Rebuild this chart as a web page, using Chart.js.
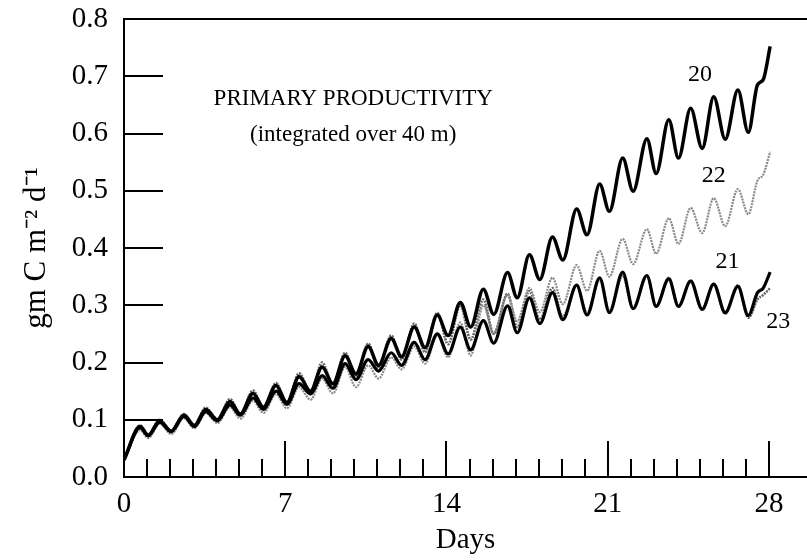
<!DOCTYPE html>
<html>
<head>
<meta charset="utf-8">
<script src="https://cdn.jsdelivr.net/npm/chart.js@4.4.1/dist/chart.umd.min.js"></script>
<style>
html,body{margin:0;padding:0;background:#fff;overflow:hidden}
#wrap{width:807px;height:560px;position:relative}
</style>
</head>
<body>
<div id="wrap"><canvas id="c" width="807" height="560"></canvas></div>
<script>
// ---- data ----
// times (days) of successive diel troughs / peaks, then end shoulder points
const times = [0, 0.7, 1.05, 1.55, 2.05, 2.6, 3.05, 3.55, 4.05, 4.6, 5.05, 5.6, 6.05, 6.6, 7.07,
  7.6, 8.1, 8.6, 9.07, 9.6, 10.07, 10.6, 11.05, 11.6, 12.05, 12.6, 13.07, 13.6, 14.07,
  14.6, 15.05, 15.6, 16.05, 16.65, 17.07, 17.6, 18.05, 18.6, 19.05, 19.65, 20.1, 20.65, 21.07,
  21.65, 22.1, 22.7, 23.1, 23.65, 24.07, 24.6, 25.1, 25.6, 26.1, 26.65, 27.1, 27.5, 27.75, 28.05];

const run20 = [0.03, 0.088, 0.073, 0.098, 0.08, 0.108, 0.09, 0.118, 0.10, 0.132, 0.11, 0.146, 0.122, 0.16, 0.13,
  0.175, 0.15, 0.192, 0.163, 0.212, 0.18, 0.228, 0.195, 0.242, 0.21, 0.262, 0.226, 0.283, 0.247,
  0.305, 0.262, 0.328, 0.284, 0.357, 0.313, 0.388, 0.345, 0.419, 0.379, 0.468, 0.423, 0.512, 0.464,
  0.557, 0.499, 0.591, 0.53, 0.624, 0.557, 0.644, 0.574, 0.664, 0.59, 0.676, 0.602, 0.685, 0.694, 0.752];

const run21 = [0.03, 0.086, 0.072, 0.096, 0.079, 0.106, 0.088, 0.114, 0.098, 0.126, 0.108, 0.138, 0.118, 0.15, 0.127,
  0.163, 0.145, 0.177, 0.155, 0.198, 0.17, 0.205, 0.185, 0.217, 0.195, 0.235, 0.205, 0.25, 0.215,
  0.262, 0.222, 0.273, 0.234, 0.299, 0.252, 0.313, 0.268, 0.322, 0.275, 0.335, 0.283, 0.348, 0.287,
  0.358, 0.294, 0.352, 0.298, 0.346, 0.298, 0.342, 0.293, 0.337, 0.287, 0.333, 0.282, 0.322, 0.33, 0.358];

const run22 = [0.03, 0.082, 0.068, 0.093, 0.075, 0.103, 0.085, 0.112, 0.094, 0.122, 0.102, 0.133, 0.112, 0.145, 0.12,
  0.157, 0.135, 0.172, 0.146, 0.192, 0.157, 0.195, 0.172, 0.209, 0.188, 0.228, 0.198, 0.247, 0.209,
  0.27, 0.212, 0.3, 0.25, 0.318, 0.272, 0.33, 0.288, 0.348, 0.302, 0.37, 0.325, 0.395, 0.35,
  0.416, 0.372, 0.433, 0.39, 0.452, 0.407, 0.47, 0.426, 0.487, 0.438, 0.503, 0.459, 0.518, 0.528, 0.568];

const run23 = [0.03, 0.09, 0.074, 0.1, 0.08, 0.11, 0.09, 0.121, 0.1, 0.136, 0.11, 0.151, 0.122, 0.164, 0.128,
  0.181, 0.148, 0.2, 0.16, 0.217, 0.175, 0.233, 0.19, 0.247, 0.205, 0.268, 0.218, 0.287, 0.232,
  0.3, 0.24, 0.31, 0.25, 0.32, 0.262, 0.325, 0.275, 0.33, 0.28, 0.335, 0.286, 0.345, 0.29,
  0.352, 0.295, 0.352, 0.298, 0.348, 0.297, 0.343, 0.292, 0.337, 0.285, 0.335, 0.278, 0.31, 0.318, 0.33];

const xLabelDays = [0, 7, 14, 21, 28];
const yTickValues = [0.0, 0.1, 0.2, 0.3, 0.4, 0.5, 0.6, 0.7, 0.8];
const runNames = ['20', '21', '22', '23'];
const titleLines = ['PRIMARY PRODUCTIVITY', '(integrated over 40 m)'];
const xAxisTitle = 'Days';
const yAxisTitle = 'gm C m\u207B\u00B2 d\u207B\u00B9';

// ---- presentation ----
const SERIF = "'Liberation Serif', 'Times New Roman', serif";
const labelPlaces = [ // where run names sit, in data units
  {name: '20', x: 25.0, y: 0.703},
  {name: '21', x: 26.2, y: 0.376},
  {name: '22', x: 25.6, y: 0.527},
  {name: '23', x: 28.4, y: 0.271}
];
const titlePlace = {x: 9.95, y1: 0.661, y2: 0.598};

function pts(vals) { return times.map((t, i) => ({x: t, y: vals[i]})); }

const frame = {
  id: 'frame',
  afterDraw(chart) {
    const {ctx, chartArea: a, scales: {x, y}} = chart;
    ctx.save();
    ctx.strokeStyle = '#000';
    ctx.lineWidth = 2;
    ctx.lineCap = 'butt';
    // top frame line
    ctx.beginPath();
    ctx.moveTo(a.left - 1, a.top);
    ctx.lineTo(a.right, a.top);
    ctx.stroke();
    // inward x ticks (daily, long at weeks)
    x.ticks.forEach(t => {
      if (t.value <= 0 || Math.abs(t.value - Math.round(t.value)) > 1e-6) return;
      const px = Math.round(x.getPixelForValue(t.value));
      const len = (t.value % 7 === 0) ? 36 : 18;
      ctx.beginPath();
      ctx.moveTo(px, a.bottom);
      ctx.lineTo(px, a.bottom - len);
      ctx.stroke();
    });
    // inward y ticks
    y.ticks.forEach(t => {
      if (t.value <= 0.001 || t.value >= 0.799) return;
      const py = Math.round(y.getPixelForValue(t.value));
      ctx.beginPath();
      ctx.moveTo(a.left, py);
      ctx.lineTo(a.left + 39, py);
      ctx.stroke();
    });
    // run labels
    ctx.fillStyle = '#000';
    ctx.textAlign = 'center';
    ctx.textBaseline = 'middle';
    ctx.font = '24px ' + SERIF;
    labelPlaces.forEach(p => {
      ctx.fillText(p.name, x.getPixelForValue(p.x), y.getPixelForValue(p.y));
    });
    // panel title
    ctx.font = '23px ' + SERIF;
    ctx.fillText(titleLines[0], x.getPixelForValue(titlePlace.x), y.getPixelForValue(titlePlace.y1));
    ctx.fillText(titleLines[1], x.getPixelForValue(titlePlace.x), y.getPixelForValue(titlePlace.y2));
    ctx.restore();
  }
};

new Chart(document.getElementById('c'), {
  type: 'line',
  data: {
    datasets: [
      {label: runNames[0], data: pts(run20), borderColor: '#000', borderWidth: 3.5},
      {label: runNames[1], data: pts(run21), borderColor: '#000', borderWidth: 3.2},
      {label: runNames[2], data: pts(run22), borderColor: '#8a8a8a', borderWidth: 2.2, borderDash: [2, 1]},
      {label: runNames[3], data: pts(run23), borderColor: '#666', borderWidth: 2.6, borderDash: [2, 1]}
    ].map(d => Object.assign(d, {pointRadius: 0, fill: false, cubicInterpolationMode: 'monotone'}))
  },
  options: {
    responsive: false,
    animation: false,
    devicePixelRatio: 1,
    layout: {padding: {top: 19, right: 0, left: 0, bottom: 0}},
    plugins: {legend: {display: false}, tooltip: {enabled: false}},
    scales: {
      x: {
        type: 'linear', min: 0, max: 29.65,
        grid: {display: false, drawTicks: false},
        border: {display: true, color: '#000', width: 2},
        ticks: {
          stepSize: 1, autoSkip: false, maxRotation: 0, padding: 10,
          color: '#000', font: {family: SERIF, size: 29},
          callback: v => xLabelDays.includes(v) ? String(v) : ''
        },
        title: {display: true, text: xAxisTitle, color: '#000', font: {family: SERIF, size: 29}, padding: {top: 0, bottom: 2}},
        afterFit: s => { s.height = 83; s.paddingLeft = 0; s.paddingRight = 0; }
      },
      y: {
        type: 'linear', min: 0, max: 0.8,
        grid: {display: false, drawTicks: false},
        border: {display: true, color: '#000', width: 2},
        afterBuildTicks: s => { s.ticks = yTickValues.map(v => ({value: v})); },
        ticks: {
          padding: 16, color: '#000', font: {family: SERIF, size: 29},
          callback: v => Number(v).toFixed(1)
        },
        title: {display: true, text: yAxisTitle, color: '#000', font: {family: SERIF, size: 31}, padding: {top: 18, bottom: 0}},
        afterFit: s => { s.width = 124; s.paddingTop = 0; s.paddingBottom = 0; }
      }
    }
  },
  plugins: [frame]
});
</script>
</body>
</html>
